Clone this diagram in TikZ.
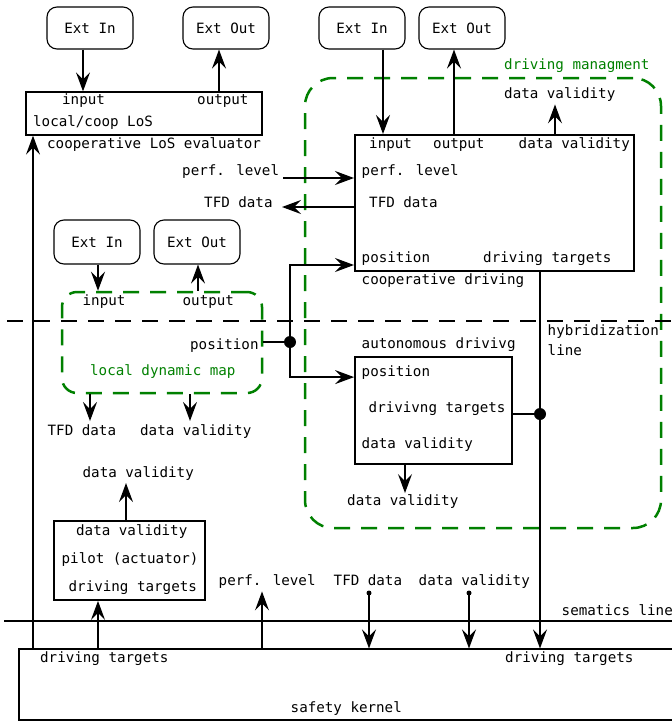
\documentclass[tikz,border=0pt]{standalone}
\usepackage{fontspec}
\setmainfont{DejaVu Sans Mono}
\usepackage{tikz}
\usetikzlibrary{shapes.geometric, arrows, arrows.meta}
\definecolor{dmgreen}{RGB}{0,128,0}
\tikzstyle{extbox} = [rectangle, rounded corners=10pt, minimum width=86pt, minimum height=42pt, text centered, draw=black, line width=1.1pt]
\tikzstyle{block} = [rectangle, draw=black, line width=1.3pt]
\tikzstyle{group} = [rectangle, draw=dmgreen, line width=2.5pt, dash pattern=on 16pt off 11pt]
\tikzstyle{lbl} = [inner sep=0pt, anchor=base west]
\tikzstyle{wire} = [line width=1.3pt]
\tikzstyle{arrow} = [line width=1.3pt, -{Stealth[length=19pt,width=14pt,inset=7pt]}]

\begin{document}
\begin{tikzpicture}[x=1pt, y=-1pt, font=\fontsize{14.2}{20}\selectfont]
\useasboundingbox (0,0) rectangle (672,721);

% external ends
\node (extIn1) [extbox] at (90,28) {Ext In};
\node (extOut1) [extbox] at (226,28) {Ext Out};
\node (extIn2) [extbox] at (362,28) {Ext In};
\node (extOut2) [extbox] at (462,28) {Ext Out};
\node (extIn3) [extbox, minimum height=44pt] at (97,242) {Ext In};
\node (extOut3) [extbox, minimum height=44pt] at (197,242) {Ext Out};

% blocks
\node (los) [block, minimum width=236pt, minimum height=43pt] at (144,113.5) {};
\node (coop) [block, line width=2pt, minimum width=279pt, minimum height=136pt] at (494.5,203) {};
\node (auto) [block, line width=1.8pt, minimum width=157pt, minimum height=107pt] at (433.5,410.5) {};
\node (pilot) [block, line width=1.8pt, minimum width=151pt, minimum height=79pt] at (129.5,560.5) {};
\node (kernel) [block, line width=1.1pt, minimum width=681pt, minimum height=71pt] at (359.5,684.5) {};
\node (ldm) [group, rounded corners=15pt, minimum width=200pt, minimum height=101pt] at (162,342.5) {};
\node (dm) [group, rounded corners=28pt, minimum width=356pt, minimum height=450pt] at (483,303) {};

% labels
\node (losIn) [lbl] at (62,104) {input};
\node (losOut) [lbl] at (197,104) {output};
\node (losName) [lbl] at (33,126.6) {local/coop LoS};
\node (losCap) [lbl] at (47,148.3) {cooperative LoS evaluator};
\node (perfL) [lbl] at (182,175.6) {perf. level};
\node (tfdL) [lbl] at (204,207) {TFD data};
\node (dmName) [lbl, text=dmgreen] at (504,69.3) {driving managment};
\node (dvTop) [lbl] at (504,98.3) {data validity};
\node (coopIn) [lbl] at (369,148.3) {input};
\node (coopOut) [lbl] at (433,148.3) {output};
\node (coopDv) [lbl] at (518.5,148.3) {data validity};
\node (coopPerf) [lbl] at (361.5,175.6) {perf. level};
\node (coopTfd) [lbl] at (369,207) {TFD data};
\node (coopPos) [lbl] at (361.5,262.3) {position};
\node (coopDt) [lbl] at (483,262.3) {driving targets};
\node (coopCap) [lbl] at (361.5,284) {cooperative driving};
\node (ldmIn) [lbl] at (82.5,305.6) {input};
\node (ldmOut) [lbl] at (182.5,305.6) {output};
\node (ldmPos) [lbl] at (190,349) {position};
\node (ldmName) [lbl, text=dmgreen] at (90,375.6) {local dynamic map};
\node (ldmTfd) [lbl] at (47.5,435) {TFD data};
\node (ldmDv) [lbl] at (140,435) {data validity};
\node (hybL) [lbl, anchor=north west, align=left] at (547.5,324.3) {hybridization\\line};
\node (autoCap) [lbl] at (361.5,348.3) {autonomous drivivg};
\node (autoPos) [lbl] at (361.5,376.6) {position};
\node (autoDt) [lbl] at (368.5,412.3) {drivivng targets};
\node (autoDv) [lbl] at (361.5,448.3) {data validity};
\node (autoDvOut) [lbl] at (347,505.6) {data validity};
\node (pilotDvOut) [lbl] at (82.5,477.3) {data validity};
\node (pilotDv) [lbl] at (76,535) {data validity};
\node (pilotName) [lbl] at (61.5,563) {pilot (actuator)};
\node (pilotDt) [lbl] at (68.5,591.6) {driving targets};
\node (kPerf) [lbl] at (218.5,585) {perf. level};
\node (kTfd) [lbl] at (333.5,585) {TFD data};
\node (kDv) [lbl] at (418.5,585) {data validity};
\node (semL) [lbl] at (561.5,615) {sematics line};
\node (kDtL) [lbl] at (40,662.6) {driving targets};
\node (kDtR) [lbl] at (505,662.6) {driving targets};
\node (kName) [lbl] at (290.5,712) {safety kernel};

% hybridization and sematics lines
\coordinate (hybW) at (7,321);
\coordinate (hybE) at (680,321);
\draw [wire, dash pattern=on 16pt off 11pt] (hybW) -- (hybE);
\coordinate (semW) at (4,621);
\coordinate (semE) at (680,621);
\draw [wire, line width=2pt] (semW) -- (semE);

% connectors
\draw [arrow] (83,0 |- extIn1.south) -- (83,0 |- los.north);
\draw [arrow] (219,0 |- los.north) -- (219,0 |- extOut1.south);
\draw [arrow] (383,0 |- extIn2.south) -- (383,0 |- coop.north);
\draw [arrow] (454,0 |- coop.north) -- (454,0 |- extOut2.south);
\draw [arrow, shorten >=3pt] (555,0 |- coop.north) -- (555,0 |- dvTop.south);
\coordinate (perfS) at (283,178);
\draw [arrow] (perfS) -- (perfS -| coop.west);
\coordinate (tfdE) at (282,207);
\draw [arrow] (tfdE -| coop.west) -- (tfdE);

\coordinate (posJ) at (290,342);
\draw [wire] (ldm.east |- posJ) -- (posJ);
\draw [arrow] (posJ) |- ([yshift=7pt]coop.south west);
\draw [arrow] (posJ) |- ([yshift=-21pt]auto.north west);
\fill (posJ) circle (6pt);

\draw [arrow] (98,0 |- extIn3.south) -- (98,0 |- ldm.north);
\draw [arrow] (198,0 |- ldm.north) -- (198,0 |- extOut3.south);
\draw [arrow, shorten >=3pt] (90,0 |- ldm.south) -- (90,0 |- ldmTfd.north);
\draw [arrow, shorten >=3pt] (190,0 |- ldm.south) -- (190,0 |- ldmDv.north);

\coordinate (dtJ) at (540,414);
\draw [wire] (auto.east |- dtJ) -- (dtJ);
\draw [arrow] (dtJ |- coop.south) -- (dtJ |- kernel.north);
\fill (dtJ) circle (6pt);
\draw [arrow, shorten >=1.5pt] (405,0 |- auto.south) -- (405,0 |- autoDvOut.north);

\draw [arrow, shorten >=2.6pt] (126,0 |- pilot.north) -- (126,0 |- pilotDvOut.south);
\draw [arrow] (98,0 |- kernel.north) -- (98,0 |- pilot.south);
\draw [arrow, shorten >=3.3pt] (262,0 |- kernel.north) -- (262,0 |- kPerf.south);
\coordinate (tfdDot) at (369,593);
\draw [arrow] (tfdDot) -- (tfdDot |- kernel.north);
\fill (tfdDot) circle (2.5pt);
\coordinate (dvDot) at (469,593);
\draw [arrow] (dvDot) -- (dvDot |- kernel.north);
\fill (dvDot) circle (2.5pt);
\draw [arrow] (33,0 |- kernel.north) -- (33,0 |- los.south);

\end{tikzpicture}
\end{document}
